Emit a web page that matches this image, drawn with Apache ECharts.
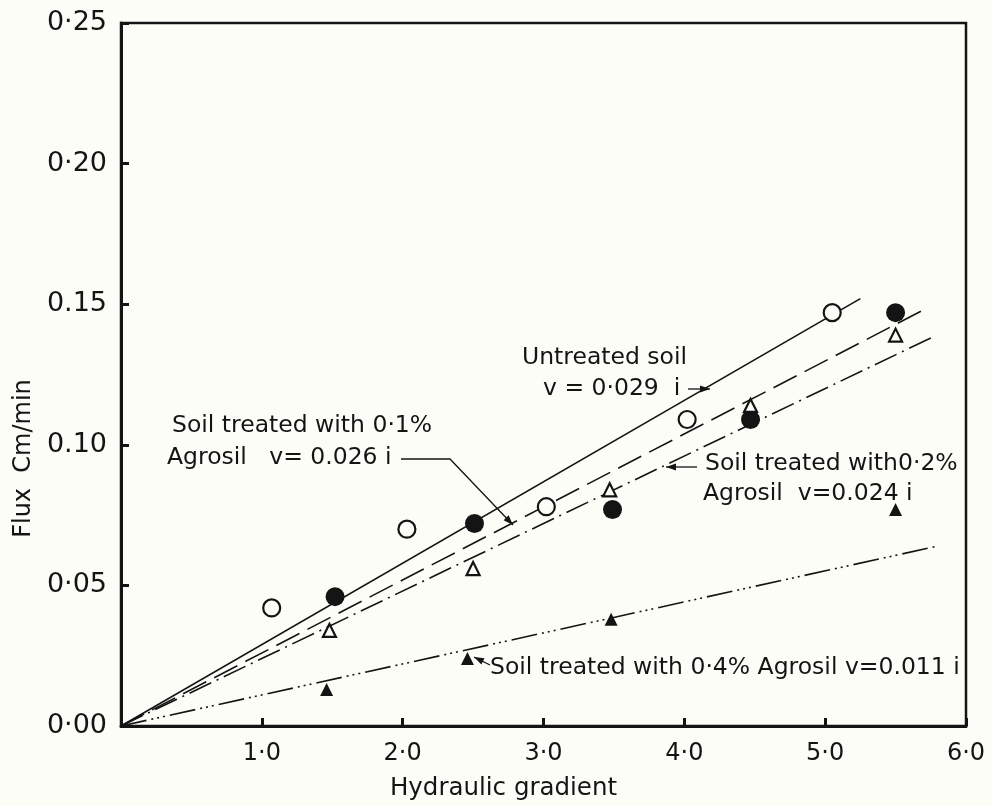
<!DOCTYPE html>
<html>
<head>
<meta charset="utf-8">
<script src="https://cdn.jsdelivr.net/npm/echarts@6/dist/echarts.min.js"></script>
<style>
html,body{margin:0;padding:0;background:#fdfdf8;}
#chart{width:992px;height:806px;}
</style>
</head>
<body>
<div id="chart"></div>
<script>
// ---- data ----
const xTickLabels = ['', '1·0', '2·0', '3·0', '4·0', '5·0', '6·0'];
const yTickLabels = ['0·00', '0·05', '0.10', '0.15', '0·20', '0·25'];

// measured points [hydraulic gradient, flux]
const untreatedPts = [[1.07, 0.042], [2.03, 0.070], [3.02, 0.078], [4.02, 0.109], [5.05, 0.147]];
const agrosil01Pts = [[1.52, 0.046], [2.51, 0.072], [3.49, 0.077], [4.47, 0.109], [5.50, 0.147]];
const agrosil02Pts = [[1.48, 0.034], [2.50, 0.056], [3.47, 0.084], [4.47, 0.114], [5.50, 0.139]];
const agrosil04Pts = [[1.46, 0.013], [2.46, 0.024], [3.48, 0.038], [5.50, 0.077]];

// fitted lines (endpoints)
const untreatedLine = [[0, 0], [5.25, 0.152]];
const agrosil01Line = [[0, 0], [5.70, 0.148]];
const agrosil02Line = [[0, 0], [5.75, 0.138]];
const agrosil04Line = [[0, 0], [5.80, 0.064]];

const FONT = '"DejaVu Sans", sans-serif';
const INK = '#141414';
const BG = '#fdfdf8';

const chart = echarts.init(document.getElementById('chart'), null, {renderer: 'canvas'});

function arrow(points, w) {
  const n = points.length;
  const [x1, y1] = points[n - 2], [x2, y2] = points[n - 1];
  const a = Math.atan2(y2 - y1, x2 - x1);
  const L = 10, H = 3.5;
  const bx = x2 - L * Math.cos(a), by = y2 - L * Math.sin(a);
  const px = -Math.sin(a) * H, py = Math.cos(a) * H;
  return [
    {type: 'polyline', z: 50, shape: {points: points}, style: {stroke: INK, lineWidth: w || 1.3, fill: null}},
    {type: 'polygon', z: 50, shape: {points: [[x2, y2], [bx + px, by + py], [bx - px, by - py]]}, style: {fill: INK}}
  ];
}
function txt(s, x, y, size) {
  return {type: 'text', z: 50, x: x, y: y, style: {text: s, fill: INK, fontSize: size || 23.5, fontFamily: FONT, verticalAlign: 'middle', align: 'left'}};
}

const graphics = [
  txt('Untreated soil', 522, 358),
  txt('v = 0·029  i', 543, 389),
  ...arrow([[688, 389], [710, 389]]),
  txt('Soil treated with 0·1%', 172, 426),
  txt('Agrosil   v= 0.026 i', 167, 458),
  ...arrow([[401, 459], [450, 459], [513, 525]]),
  txt('Soil treated with0·2%', 705, 464),
  txt('Agrosil  v=0.024 i', 703, 494),
  ...arrow([[697, 467], [666, 467]]),
  txt('Soil treated with 0·4% Agrosil v=0.011 i', 490, 668),
  ...arrow([[490, 665], [474, 657]])
];

function lineSeries(name, data, type) {
  return {
    name: name, type: 'line', data: data, showSymbol: false, silent: true, z: 2,
    lineStyle: {color: INK, width: 1.6, type: type}
  };
}
function scatterSeries(name, data, symbol, size, filled) {
  return {
    name: name, type: 'scatter', data: data, symbol: symbol, symbolSize: size, z: 5,
    itemStyle: filled ? {color: INK, opacity: 1} : {color: BG, borderColor: INK, borderWidth: 2.2, opacity: 1}
  };
}

chart.setOption({
  backgroundColor: BG,
  animation: false,
  grid: {left: 121, right: 26, top: 23, bottom: 77, show: true, borderColor: INK, borderWidth: 2.5, backgroundColor: 'transparent'},
  xAxis: {
    type: 'value', min: 0, max: 6, interval: 1,
    name: 'Hydraulic gradient', nameLocation: 'middle', nameGap: 50,
    nameTextStyle: {fontFamily: FONT, fontSize: 24.5, color: INK, padding: [0, 80, 0, 0]},
    axisLine: {show: true, lineStyle: {color: INK, width: 3}},
    axisTick: {show: true, inside: true, length: 8, lineStyle: {color: INK, width: 3}},
    splitLine: {show: false},
    axisLabel: {
      fontFamily: FONT, fontSize: 24, color: INK, margin: 16,
      formatter: v => xTickLabels[Math.round(v)]
    }
  },
  yAxis: {
    type: 'value', min: 0, max: 0.25, interval: 0.05,
    name: 'Flux  Cm/min', nameLocation: 'middle', nameGap: 84, nameRotate: 90,
    nameTextStyle: {fontFamily: FONT, fontSize: 24, color: INK, padding: [0, 168, 0, 0]},
    axisLine: {show: true, lineStyle: {color: INK, width: 3}},
    axisTick: {show: true, inside: true, length: 8, lineStyle: {color: INK, width: 3}},
    splitLine: {show: false},
    axisLabel: {
      fontFamily: FONT, fontSize: 27, color: INK, margin: 14,
      formatter: v => yTickLabels[Math.round(v / 0.05)]
    }
  },
  series: [
    lineSeries('Untreated soil fit', untreatedLine, 'solid'),
    lineSeries('0.1% Agrosil fit', agrosil01Line, [26, 9]),
    lineSeries('0.2% Agrosil fit', agrosil02Line, [24, 6, 2, 6]),
    lineSeries('0.4% Agrosil fit', agrosil04Line, [26, 5, 2, 4, 2, 4, 2, 5]),
    scatterSeries('Untreated soil', untreatedPts, 'circle', 17, false),
    scatterSeries('Soil treated with 0.1% Agrosil', agrosil01Pts, 'circle', 19, true),
    scatterSeries('Soil treated with 0.2% Agrosil', agrosil02Pts, 'triangle', 13, false),
    scatterSeries('Soil treated with 0.4% Agrosil', agrosil04Pts, 'triangle', 13, true)
  ],
  graphic: graphics
});
</script>
</body>
</html>
